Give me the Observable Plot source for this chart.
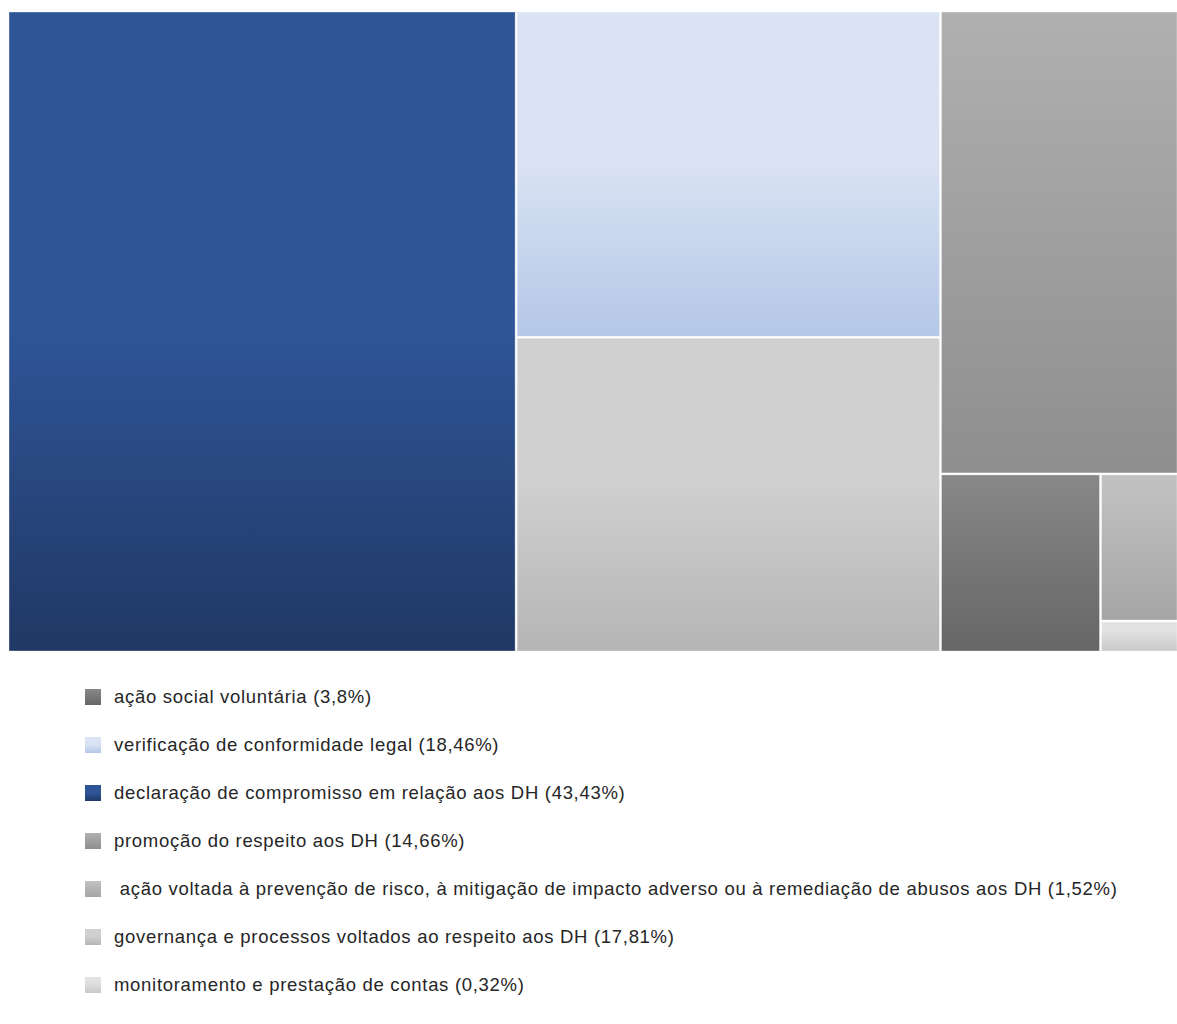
<!DOCTYPE html>
<html>
<head>
<meta charset="utf-8">
<script src="https://cdn.jsdelivr.net/npm/d3@7"></script>
<script src="https://cdn.jsdelivr.net/npm/@observablehq/plot@0.6"></script>
<style>
  body { margin: 0; background: #fff; font-family: "Liberation Sans", Arial, sans-serif; }
  #chart svg { display: block; }
  #legend { margin-top: 13px; }
  .row { height: 48px; display: flex; align-items: center; }
  .sw { width: 16px; height: 16px; margin-left: 85px; margin-right: 13px; flex: none; }
  .lab { font-size: 18.5px; letter-spacing: 0.7px; color: #262626; white-space: pre; }
</style>
</head>
<body>
<div id="chart"></div>
<div id="legend"></div>
<script>
// Data (original series order, as in the legend)
const categories = [
  "ação social voluntária",
  "verificação de conformidade legal",
  "declaração de compromisso em relação aos DH",
  "promoção do respeito aos DH",
  " ação voltada à prevenção de risco, à mitigação de impacto adverso ou à remediação de abusos aos DH",
  "governança e processos voltados ao respeito aos DH",
  "monitoramento e prestação de contas"
];
const values = [3.8, 18.46, 43.43, 14.66, 1.52, 17.81, 0.32];
const valueLabels = ["3,8%", "18,46%", "43,43%", "14,66%", "1,52%", "17,81%", "0,32%"];

// Styles (gradient colours per category: top, mid stop, bottom)
const colorTop =    ["#888888", "#dae3f3", "#2f5597", "#b0b0b0", "#c2c2c2", "#d0d0d0", "#e2e2e2"];
const colorBottom = ["#666666", "#b4c7e7", "#203864", "#8e8e8e", "#a5a5a5", "#b5b5b5", "#c9c9c9"];
const midStop =     [0.0, 0.45, 0.5, 0.0, 0.0, 0.45, 0.3];

const W = 1168, H = 639;
const table = categories.map((c, i) => ({name: c, value: values[i], idx: i}));
const root = d3.hierarchy({children: table}).sum(d => d.value).sort((a, b) => b.value - a.value);
d3.treemap().size([W, H]).paddingInner(2).tile(d3.treemapSquarify)(root);
const cells = root.leaves().map(l => ({...l.data, x0: l.x0, x1: l.x1, y0: l.y0, y1: l.y1}));

const plot = Plot.plot({
  width: 1177,
  height: 660,
  marginLeft: 9, marginRight: 0, marginTop: 12, marginBottom: 9,
  x: {domain: [0, W], range: [9, 1177], axis: null},
  y: {domain: [0, H], range: [12, 651], axis: null},
  color: {type: "identity"},
  marks: [
    Plot.rect(cells, {
      x1: "x0", x2: "x1", y1: "y0", y2: "y1",
      fill: d => `url(#grad${d.idx})`,
      stroke: "white", strokeOpacity: 0.35, strokeWidth: 1
    })
  ]
});

// gradients
const ns = "http://www.w3.org/2000/svg";
const defs = document.createElementNS(ns, "defs");
categories.forEach((c, i) => {
  const g = document.createElementNS(ns, "linearGradient");
  g.setAttribute("id", "grad" + i);
  g.setAttribute("x1", "0"); g.setAttribute("y1", "0");
  g.setAttribute("x2", "0"); g.setAttribute("y2", "1");
  [[0, colorTop[i]], [midStop[i], colorTop[i]], [1, colorBottom[i]]].forEach(([o, col]) => {
    const s = document.createElementNS(ns, "stop");
    s.setAttribute("offset", o);
    s.setAttribute("stop-color", col);
    g.appendChild(s);
  });
  defs.appendChild(g);
});
plot.insertBefore(defs, plot.firstChild);
document.getElementById("chart").appendChild(plot);

// legend
const legend = document.getElementById("legend");
categories.forEach((c, i) => {
  const row = document.createElement("div");
  row.className = "row";
  const sw = document.createElement("div");
  sw.className = "sw";
  sw.style.background = `linear-gradient(${colorTop[i]}, ${colorTop[i]} ${midStop[i]*100}%, ${colorBottom[i]})`;
  const lab = document.createElement("span");
  lab.className = "lab";
  lab.textContent = `${c} (${valueLabels[i]})`;
  row.appendChild(sw); row.appendChild(lab);
  legend.appendChild(row);
});
</script>
</body>
</html>
